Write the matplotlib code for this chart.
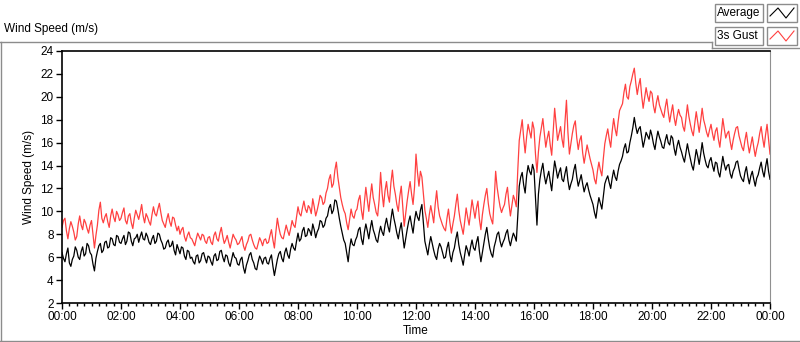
import numpy as np
import matplotlib
matplotlib.use("Agg")
from matplotlib import pyplot as plt
from matplotlib.lines import Line2D
from matplotlib.patches import Rectangle
from matplotlib.ticker import MultipleLocator, FuncFormatter

# 3-minute samples, 00:00 .. 24:00 (one row per hour)
average = [
    6.4, 5.9, 5.6, 6.3, 6.8, 5.5, 5.2, 5.8, 6.1, 6.9, 6.6, 6.0, 5.8, 6.5, 6.9, 6.1, 6.3, 7.2, 7.0, 6.4,
    6.2, 5.4, 4.8, 5.9, 6.5, 7.0, 7.2, 6.4, 6.6, 7.3, 7.4, 6.8, 6.9, 7.7, 7.6, 7.1, 7.0, 7.9, 7.8, 7.3,
    7.2, 7.6, 7.9, 7.1, 7.4, 8.2, 8.1, 7.4, 7.0, 7.6, 7.7, 8.0, 7.3, 7.8, 8.2, 7.6, 7.5, 8.1, 7.8, 7.3,
    7.1, 7.6, 7.9, 7.2, 7.4, 8.1, 8.0, 7.5, 7.2, 6.7, 6.8, 7.3, 7.5, 6.9, 7.0, 7.4, 6.6, 6.2, 7.1, 6.7,
    6.3, 6.9, 6.8, 6.1, 5.8, 6.6, 6.5, 5.9, 6.0, 5.6, 5.4, 6.1, 6.2, 5.5, 5.7, 6.3, 6.4, 5.9, 5.5, 6.1,
    6.0, 5.6, 5.3, 6.1, 6.3, 5.7, 5.8, 6.5, 6.6, 6.0, 5.6, 6.2, 6.1, 5.5, 5.2, 5.8, 6.4, 6.0, 5.9, 5.4,
    5.3, 5.8, 6.0, 5.1, 4.6, 5.3, 5.7, 6.2, 6.4, 5.8, 5.5, 5.0, 4.9, 5.6, 6.1, 5.8, 5.4, 5.9, 6.0, 5.5,
    5.4, 5.9, 6.2, 5.2, 4.4, 5.1, 5.8, 6.3, 6.5, 5.9, 5.6, 6.4, 6.8, 6.2, 5.9, 6.7, 7.2, 6.8, 6.6, 7.4,
    8.1, 7.4, 7.6, 8.3, 8.6, 7.8, 7.9, 8.5, 8.3, 7.9, 8.9, 8.4, 7.7, 8.2, 8.5, 9.2, 9.1, 8.6, 8.8, 9.4,
    9.6, 10.3, 10.6, 9.8, 10.1, 11.0, 10.9, 10.2, 9.4, 8.7, 8.1, 7.5, 7.2, 6.4, 5.6, 6.8, 7.6, 7.1, 7.0, 7.5,
    7.8, 8.4, 8.6, 7.6, 7.1, 8.2, 8.9, 8.3, 7.6, 8.5, 9.2, 8.4, 8.0, 7.5, 7.3, 8.1, 8.7, 8.2, 7.9, 8.8,
    9.4, 8.7, 8.2, 9.3, 10.2, 9.4, 8.8, 8.1, 7.6, 8.4, 9.0, 7.9, 6.8, 7.6, 8.4, 9.1, 9.6, 8.8, 8.1, 9.2,
    10.0, 9.5, 9.2, 10.1, 10.6, 9.0, 7.4, 6.8, 6.2, 7.1, 7.8, 7.2, 6.6, 6.1, 5.8, 6.7, 7.2, 6.9, 6.4, 5.9,
    6.0, 6.8, 7.3, 6.2, 5.6, 6.4, 6.8, 7.6, 8.2, 7.1, 6.4, 5.9, 5.3, 6.2, 7.0, 6.6, 6.1, 6.9, 7.5, 6.8,
    6.6, 7.3, 7.8, 6.5, 5.6, 6.4, 7.2, 8.0, 8.6, 7.6, 6.8, 6.3, 6.0, 6.9, 7.4, 8.0, 8.2, 7.4, 6.9, 7.3,
    7.6, 8.1, 8.4, 7.5, 7.0, 7.6, 8.1, 7.8, 7.4, 9.6, 12.2, 13.0, 13.4, 12.3, 11.6, 13.1, 14.0, 13.5, 13.2, 14.1,
    13.6, 11.2, 8.8, 11.5, 12.8, 13.6, 14.2, 13.1, 12.4, 13.0, 13.5, 12.6, 11.8, 13.2, 14.4, 13.7, 12.9, 13.4, 13.8, 12.8,
    12.6, 13.3, 13.9, 12.7, 11.9, 12.4, 12.8, 13.6, 14.1, 13.0, 12.2, 12.7, 13.2, 12.4, 11.7, 12.2, 12.5, 11.9, 11.4, 11.0,
    10.6, 9.9, 9.4, 10.4, 11.2, 10.7, 10.2, 11.3, 12.4, 12.8, 13.1, 12.5, 12.0, 12.9, 13.6, 13.0, 12.7, 13.5, 14.1, 14.4,
    14.8, 15.5, 15.9, 15.1, 15.2, 16.0, 16.6, 17.3, 18.2, 17.4, 16.8, 17.2, 17.4, 16.5, 15.6, 16.2, 16.9, 16.6, 16.3, 17.1,
    16.6, 15.9, 15.4, 16.3, 17.0, 16.5, 16.1, 15.6, 15.5, 16.2, 16.7, 16.0, 15.8, 16.6, 16.4, 15.5, 14.9, 15.7, 16.2, 15.6,
    15.2, 14.7, 14.3, 15.1, 15.9, 15.2, 14.6, 14.0, 13.6, 14.5, 15.4, 14.8, 14.1, 15.0, 16.0, 15.1, 14.5, 14.0, 13.8, 14.4,
    14.7, 14.0, 13.5, 14.3, 14.2, 13.4, 13.0, 13.9, 14.8, 14.1, 13.6, 14.0, 14.1, 13.3, 12.9, 13.5, 13.8, 14.3, 14.4, 13.7,
    13.1, 12.8, 12.6, 13.4, 13.9, 13.0, 12.4, 13.1, 13.5, 12.8, 12.2, 12.9, 13.2, 13.8, 14.3, 13.5, 13.0, 13.9, 14.6, 13.5,
    12.8,
]
gust = [
    8.6, 9.2, 9.4, 8.3, 7.6, 8.5, 9.1, 8.7, 8.2, 7.5, 7.8, 8.9, 9.6, 8.8, 8.4, 9.3, 9.0, 8.5, 8.1, 8.8,
    9.2, 8.0, 6.8, 7.9, 8.8, 10.1, 10.8, 9.4, 9.0, 9.5, 9.8, 9.1, 8.6, 9.6, 10.2, 9.5, 9.1, 10.0, 9.7, 9.2,
    9.4, 9.9, 10.3, 9.2, 8.9, 9.6, 9.8, 9.0, 8.5, 9.4, 10.1, 9.7, 9.3, 9.9, 10.6, 9.6, 9.0, 9.8, 9.5, 9.1,
    8.8, 9.7, 10.4, 9.8, 9.6, 10.2, 10.7, 9.9, 9.2, 8.9, 8.6, 9.3, 9.8, 9.1, 8.7, 9.5, 9.4, 8.8, 8.3, 8.7,
    8.0, 8.4, 8.6, 7.8, 7.4, 7.9, 8.2, 7.7, 7.6, 7.3, 7.0, 7.6, 8.1, 7.8, 7.5, 8.0, 7.9, 7.4, 7.2, 7.7,
    7.8, 7.3, 7.1, 7.9, 8.2, 7.6, 7.4, 8.1, 8.6, 7.8, 7.2, 7.5, 7.9, 7.3, 6.8, 7.4, 8.0, 7.7, 7.5, 7.1,
    7.2, 7.5, 7.8, 7.0, 6.6, 7.1, 7.4, 7.9, 8.0, 7.5, 7.1, 6.8, 6.7, 7.2, 7.7, 7.4, 7.0, 7.5, 7.6, 7.2,
    7.3, 7.9, 8.4, 7.5, 6.8, 8.2, 9.4, 8.6, 8.0, 7.7, 7.6, 8.2, 8.8, 8.3, 7.9, 8.5, 9.2, 8.8, 8.6, 9.5,
    10.4, 9.8, 9.6, 10.3, 10.9, 10.2, 9.9, 10.5, 10.3, 9.8, 11.1, 10.4, 9.6, 10.1, 10.7, 11.4, 11.2, 10.6, 10.8, 11.6,
    12.0, 12.8, 13.2, 12.1, 12.4, 13.6, 14.3, 13.0, 12.1, 11.2, 10.6, 10.1, 9.8, 9.0, 8.4, 9.3, 10.2, 9.6, 9.4, 10.0,
    10.2, 11.0, 11.4, 10.1, 9.3, 10.8, 12.1, 11.0, 10.0, 11.3, 12.4, 11.2, 10.6, 9.9, 9.6, 11.0, 13.4, 11.6, 10.4, 11.8,
    12.6, 11.4, 10.8, 12.5, 13.6, 12.2, 11.5, 10.6, 10.0, 11.3, 12.2, 10.4, 8.7, 9.8, 10.9, 11.8, 12.6, 11.5, 10.6, 12.1,
    15.0, 13.4, 12.2, 13.5, 13.0, 11.6, 10.1, 9.4, 8.6, 9.7, 10.5, 9.8, 9.0, 10.6, 11.8, 10.4, 9.6, 9.2, 8.8, 8.5,
    8.3, 9.4, 10.2, 9.0, 8.1, 8.9, 9.6, 10.6, 11.5, 10.1, 9.2, 8.6, 8.0, 9.1, 10.3, 9.5, 8.8, 9.9, 11.0, 10.2,
    9.4, 10.3, 10.9, 9.3, 8.4, 9.7, 10.6, 11.4, 12.0, 10.7, 9.8, 9.3, 8.9, 11.0, 13.5, 12.1, 11.2, 10.4, 9.9, 10.3,
    10.6, 11.5, 12.1, 10.7, 9.6, 10.5, 11.4, 11.0, 10.4, 13.6, 16.2, 17.1, 18.0, 16.4, 15.1, 16.5, 17.6, 17.0, 16.4, 17.8,
    17.2, 15.0, 13.4, 15.2, 16.5, 17.3, 18.1, 16.8, 15.6, 16.4, 17.0, 15.8, 14.9, 16.9, 19.0, 17.6, 16.2, 16.8, 17.4, 16.3,
    15.6, 17.8, 19.7, 16.9, 15.0, 15.9, 16.8, 17.5, 17.9, 16.4, 15.4, 16.2, 16.6, 15.1, 14.2, 15.0, 15.8, 15.2, 14.6, 14.1,
    13.6, 12.8, 12.4, 13.5, 14.3, 13.6, 13.1, 14.6, 15.9, 16.6, 17.2, 16.3, 15.6, 17.0, 18.1, 17.2, 16.6, 17.8, 18.8, 19.1,
    19.4, 20.4, 21.1, 20.0, 19.8, 20.9, 21.4, 22.0, 22.5, 21.2, 20.2, 21.0, 21.6, 20.1, 19.0, 19.9, 20.8, 20.1, 19.6, 20.5,
    20.3, 19.2, 18.6, 19.5, 20.1, 19.3, 18.9, 18.5, 18.2, 19.1, 19.8, 18.7, 17.8, 18.6, 19.3, 18.2, 17.5, 18.3, 18.9, 18.4,
    18.2, 17.4, 17.0, 18.1, 19.3, 18.3, 17.6, 17.0, 16.6, 17.7, 18.7, 17.8, 16.9, 17.9, 19.0, 18.0, 17.5, 16.9, 16.5, 17.1,
    17.6, 16.8, 16.2, 17.0, 17.3, 16.3, 15.6, 16.8, 18.1, 17.2, 16.4, 16.8, 17.0, 16.1, 15.4, 16.2, 16.8, 17.3, 17.4, 16.6,
    16.1, 15.6, 15.3, 16.2, 16.9, 15.9, 15.1, 15.8, 16.5, 15.6, 14.8, 15.5, 16.0, 16.8, 17.4, 16.4, 15.6, 16.7, 17.6, 16.3,
    15.0,
]
hours_avg = np.linspace(0, 24, len(average))
hours_gust = np.linspace(0, 24, len(gust))

plt.rcParams['font.family'] = ['Liberation Sans', 'DejaVu Sans']

W, H = 800, 342
fig = plt.figure(figsize=(W / 100, H / 100), dpi=100)

def fx(px):
    return px / W

def fy(py):
    return 1 - py / H

ax = fig.add_axes([fx(62), fy(303), fx(770) - fx(62), fy(51) - fy(303)])
ax.plot(hours_gust, gust, color='#ff4040', lw=0.9)
ax.plot(hours_avg, average, color='black', lw=0.9)

ax.set_xlim(0, 24)
ax.set_ylim(2, 24)
ax.yaxis.set_major_locator(MultipleLocator(2))
ax.xaxis.set_major_locator(MultipleLocator(2))
ax.xaxis.set_minor_locator(MultipleLocator(0.25))
ax.xaxis.set_major_formatter(FuncFormatter(lambda v, p: "%02d:00" % (int(round(v)) % 24)))
ax.tick_params(axis='both', which='major', length=4, width=1, labelsize=8.5, colors='black', pad=2)
ax.tick_params(axis='x', which='minor', length=2.5, width=1)
ax.spines['right'].set_color('#909090')
for s in ['left', 'top', 'bottom']:
    ax.spines[s].set_linewidth(1.2)
ax.set_ylabel("Wind Speed (m/s)", fontsize=8.5, labelpad=4)
ax.set_xlabel("Time", fontsize=8.5, labelpad=1)

# outer frame
gray = '#8c8c8c'
frame = [((0, 42), (712, 42)), ((712, 42), (712, 48)), ((712, 48), (800, 48)),
         ((0.5, 42), (0.5, 342)), ((0, 341), (800, 341))]
for (x0, y0), (x1, y1) in frame:
    fig.add_artist(Line2D([fx(x0), fx(x1)], [fy(y0), fy(y1)], color=gray, lw=1.0))
fig.text(fx(4), fy(32), "Wind Speed (m/s)", fontsize=8.5, va='baseline', ha='left')

# legend boxes
for i, (name, col) in enumerate([("Average", 'black'), ("3s Gust", '#ff4040')]):
    top = 4 + i * 23
    fig.add_artist(Rectangle((fx(715), fy(top + 18)), fx(48), 18 / H, fill=False, ec=gray, lw=1.0))
    fig.add_artist(Rectangle((fx(767), fy(top + 18)), fx(30), 18 / H, fill=False, ec=gray, lw=1.0))
    fig.text(fx(717), fy(top + 9), name, fontsize=8.5, va='center', ha='left')
    zx = [770, 778, 786, 794]
    zy = [top + 12, top + 4, top + 14, top + 4]
    fig.add_artist(Line2D([fx(v) for v in zx], [fy(v) for v in zy], color=col, lw=0.8))

fig.savefig("out.png", dpi=100)
